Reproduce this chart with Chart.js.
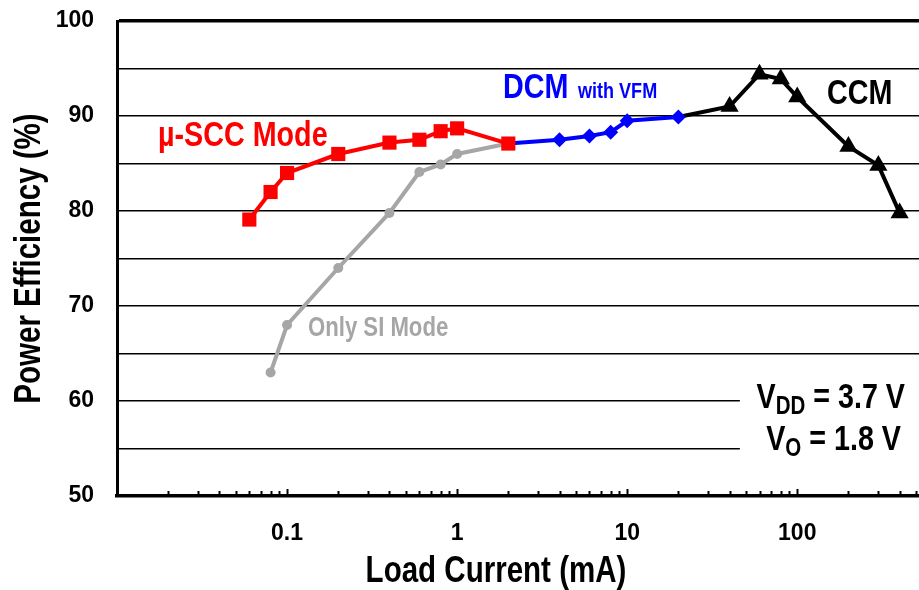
<!DOCTYPE html>
<html>
<head>
<meta charset="utf-8">
<script src="https://cdn.jsdelivr.net/npm/chart.js@4.4.1/dist/chart.umd.min.js"></script>
<style>
  html, body { margin: 0; padding: 0; background: #fff; }
</style>
</head>
<body>
<canvas id="myChart" width="919" height="590"></canvas>
<script>
// load current (mA) and power efficiency (%) for each operating mode
const sccCurrent = [0.06, 0.08, 0.1, 0.2, 0.4, 0.6, 0.8, 1, 2];
const sccEff = [79.1, 82, 84, 86, 87.2, 87.5, 88.4, 88.7, 87.1];

const siCurrent = [0.08, 0.1, 0.2, 0.4, 0.6, 0.8, 1, 2];
const siEff = [63, 68, 74, 79.8, 84.1, 84.9, 86, 87.1];

const dcmCurrent = [2, 4, 6, 8, 10, 20];
const dcmEff = [87.1, 87.5, 87.9, 88.3, 89.5, 89.9];

const ccmCurrent = [20, 40, 60, 80, 100, 200, 300, 400];
const ccmEff = [89.9, 91, 94.4, 93.9, 92, 86.8, 84.8, 79.8];

// tick labels
const xTickLabels = [0.1, 1, 10, 100];
const yTickLabels = [50, 60, 70, 80, 90, 100];

const FONT = '"Liberation Sans", Arial, sans-serif';
// the original text is a condensed bold face, squeeze it a bit
const SQUEEZE = 0.82;

function toPoints(xs, ys) {
    return xs.map((x, i) => ({ x: x, y: ys[i] }));
}

function narrowText(ctx, text, x, y, size, align) {
    ctx.save();
    ctx.font = 'bold ' + size + 'px ' + FONT;
    ctx.textAlign = align || 'left';
    ctx.translate(x, y);
    ctx.scale(SQUEEZE, 1);
    ctx.fillText(text, 0, 0);
    ctx.restore();
}

function narrowWidth(ctx, text, size) {
    ctx.save();
    ctx.font = 'bold ' + size + 'px ' + FONT;
    const w = ctx.measureText(text).width * SQUEEZE;
    ctx.restore();
    return w;
}

// labels, the white box behind the supply text and the small log ticks
const notesPlugin = {
    id: 'notes',
    beforeDatasetsDraw(chart) {
        const ctx = chart.ctx;
        const xs = chart.scales.x, ys = chart.scales.y;
        const area = chart.chartArea;
        ctx.save();
        ctx.fillStyle = '#fff';
        const left = xs.getPixelForValue(46);
        const top = ys.getPixelForValue(63.3);
        const bottom = ys.getPixelForValue(52.5);
        ctx.fillRect(left, top, area.right - left, bottom - top);
        ctx.restore();
    },
    afterDatasetsDraw(chart) {
        const ctx = chart.ctx;
        const xs = chart.scales.x;
        const area = chart.chartArea;
        ctx.save();

        // minor ticks on the log axis, pointing up
        ctx.strokeStyle = '#000';
        ctx.lineWidth = 2;
        for (let dec = 0.01; dec < 1000; dec *= 10) {
            for (let m = 1; m < 10; m++) {
                const v = dec * m;
                if (v <= xs.min * 1.01 || v > xs.max) continue;
                const px = Math.round(xs.getPixelForValue(v)) + 0.5;
                const len = m === 1 ? 7 : 5;
                ctx.beginPath();
                ctx.moveTo(px, area.bottom);
                ctx.lineTo(px, area.bottom - len);
                ctx.stroke();
            }
        }

        ctx.textBaseline = 'alphabetic';

        ctx.fillStyle = '#ff0000';
        narrowText(ctx, '\u00b5-SCC Mode', 158, 146, 35);

        ctx.fillStyle = '#0000ff';
        narrowText(ctx, 'DCM', 503, 98, 35);
        narrowText(ctx, 'with VFM', 578, 98, 22);

        ctx.fillStyle = '#000';
        narrowText(ctx, 'CCM', 827, 104, 35);

        ctx.fillStyle = '#a6a6a6';
        narrowText(ctx, 'Only SI Mode', 308, 336, 27);

        // V_DD and V_O, right aligned
        ctx.fillStyle = '#000';
        function supply(main, sub, rest, right, base) {
            const wRest = narrowWidth(ctx, rest, 35);
            const wMain = narrowWidth(ctx, main, 35);
            const wSub = narrowWidth(ctx, sub, 25);
            let x = right - wRest - wSub - wMain;
            narrowText(ctx, main, x, base, 35);
            x += wMain;
            narrowText(ctx, sub, x, base + 6, 25);
            x += wSub;
            narrowText(ctx, rest, x, base, 35);
        }
        supply('V', 'DD', ' = 3.7 V', 905, 408);
        supply('V', 'O', ' = 1.8 V', 901, 450);

        // axis titles
        narrowText(ctx, 'Load Current (mA)', 496, 582, 36, 'center');

        ctx.save();
        ctx.translate(30, (area.top + area.bottom) / 2);
        ctx.rotate(-Math.PI / 2);
        ctx.textBaseline = 'middle';
        narrowText(ctx, 'Power Efficiency (%)', 0, 0, 36, 'center');
        ctx.restore();

        ctx.restore();
    }
};

const myChart = document.getElementById('myChart');

let lineChart = new Chart(myChart, {
    type: 'line',
    data: {
        datasets: [
            {
                label: '\u00b5-SCC Mode',
                data: toPoints(sccCurrent, sccEff),
                borderColor: '#ff0000',
                backgroundColor: '#ff0000',
                borderWidth: 4,
                pointStyle: 'rect',
                pointRadius: 10,
                pointBorderWidth: 0,
                order: 1
            },
            {
                label: 'DCM with VFM',
                data: toPoints(dcmCurrent, dcmEff),
                borderColor: '#0000ff',
                backgroundColor: '#0000ff',
                borderWidth: 4,
                pointStyle: 'rectRot',
                pointRadius: dcmCurrent.map((v, i) => i === 0 ? 0 : 7.5),
                pointBorderWidth: 0,
                order: 2
            },
            {
                label: 'Only SI Mode',
                data: toPoints(siCurrent, siEff),
                borderColor: '#a6a6a6',
                backgroundColor: '#a6a6a6',
                borderWidth: 4,
                pointStyle: 'circle',
                pointRadius: 5,
                pointBorderWidth: 0,
                order: 3
            },
            {
                label: 'CCM',
                data: toPoints(ccmCurrent, ccmEff),
                borderColor: '#000000',
                backgroundColor: '#000000',
                borderWidth: 4,
                pointStyle: 'triangle',
                pointRadius: ccmCurrent.map((v, i) => i === 0 ? 0 : 10.5),
                pointBorderWidth: 0,
                order: 4
            }
        ]
    },
    options: {
        responsive: false,
        animation: false,
        devicePixelRatio: 1,
        layout: { autoPadding: false, padding: { top: 21, right: 0, bottom: 0, left: 0 } },
        plugins: {
            legend: { display: false },
            tooltip: { enabled: false }
        },
        scales: {
            x: {
                type: 'logarithmic',
                min: 0.01,
                max: 520,
                afterBuildTicks: function (scale) {
                    scale.ticks = xTickLabels.map(v => ({ value: v }));
                },
                afterFit: function (scale) {
                    scale.height = 94;
                    scale.paddingLeft = 0;
                    scale.paddingRight = 0;
                },
                ticks: {
                    autoSkip: false,
                    maxRotation: 0,
                    padding: 24,
                    color: '#000',
                    font: { family: FONT, size: 23, weight: 'bold' },
                    callback: function (value) {
                        return String(value);
                    }
                },
                grid: { display: true, drawOnChartArea: false, drawTicks: false },
                border: { display: true, color: '#000', width: 3.5 }
            },
            y: {
                min: 50,
                max: 100,
                afterFit: function (scale) {
                    scale.width = 117;
                    scale.paddingTop = 0;
                    scale.paddingBottom = 0;
                },
                ticks: {
                    stepSize: 5,
                    padding: 23,
                    color: '#000',
                    font: { family: FONT, size: 23, weight: 'bold' },
                    callback: function (value) {
                        return yTickLabels.includes(value) ? String(value) : '';
                    }
                },
                grid: {
                    color: '#000',
                    lineWidth: function (c) {
                        return c.tick && c.tick.value === 100 ? 3.5 : 1.5;
                    },
                    drawTicks: false
                },
                border: { display: true, color: '#000', width: 3 }
            }
        }
    },
    plugins: [notesPlugin]
});
</script>
</body>
</html>
